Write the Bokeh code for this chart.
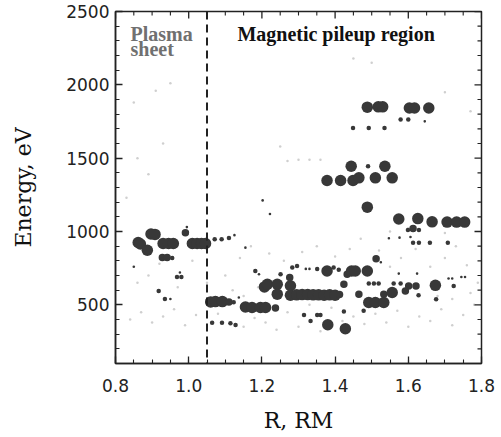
import math
from bokeh.plotting import figure
from bokeh.models import (Range1d, SingleIntervalTicker, Span, Label,
                          ColumnDataSource, NumeralTickFormatter)
from bokeh.embed import file_html
from bokeh.resources import INLINE

# ---- data: ion energy peaks vs distance (R in Mercury radii), level = peak intensity class
r_vals = [
    0.862, 0.868, 0.887, 0.897, 0.908, 0.930, 0.945, 0.958, 0.928, 0.941, 0.955, 0.991, 0.995,
    1.010, 1.023, 1.035, 1.046, 0.850, 0.968, 0.980, 0.976, 0.918, 0.935, 0.950,
    1.071, 1.090, 1.110, 1.125,
    1.060, 1.073, 1.092, 1.110, 1.123, 1.137,
    1.064, 1.091, 1.114, 1.128,
    1.155, 1.173, 1.196, 1.210, 1.237, 1.155,
    1.182, 1.192,
    1.207, 1.215, 1.242, 1.242, 1.278, 1.278, 1.251, 1.276, 1.283, 1.296, 1.320, 1.330,
    1.351, 1.396, 1.410, 1.433, 1.424, 1.378, 1.445, 1.455, 1.488, 1.465,
    1.295, 1.310, 1.325, 1.340, 1.355, 1.370, 1.385, 1.400, 1.412,
    1.315, 1.351, 1.360, 1.333, 1.424, 1.380, 1.428,
    1.478, 1.492, 1.510, 1.533, 1.533, 1.556, 1.592, 1.601, 1.621, 1.628, 1.674, 1.676, 1.724,
    1.492, 1.506, 1.519, 1.560, 1.579, 1.512, 1.525, 1.574, 1.624, 1.710, 1.720, 1.745, 1.755,
    1.488, 1.574, 1.626, 1.665, 1.706, 1.732, 1.754, 1.599, 1.613, 1.629, 1.547, 1.576, 1.606,
    1.613, 1.629, 1.659, 1.708,
    1.378, 1.415, 1.449, 1.465, 1.510, 1.556, 1.444, 1.490, 1.536,
    1.488, 1.518, 1.530, 1.603, 1.617, 1.656,
    1.579, 1.600, 1.645, 1.449, 1.492, 1.535,
    1.202, 1.222,
]
e_vals = [
    925, 915, 872, 983, 980, 918, 918, 918, 822, 822, 820, 992, 1030,
    918, 918, 918, 918, 760, 690, 690, 720, 595, 540, 540,
    947, 947, 955, 975,
    520, 522, 522, 520, 518, 550,
    377, 377, 375, 362,
    485, 482, 482, 482, 478, 890,
    731, 708,
    622, 640, 640, 573, 630, 565, 708, 686, 754, 765, 745, 745,
    745, 754, 740, 708, 641, 731, 731, 731, 731, 573,
    568, 570, 570, 568, 568, 565, 568, 565, 570,
    430, 430, 430, 390, 454, 364, 337,
    459, 516, 516, 516, 573, 584, 595, 629, 629, 566, 633, 538, 629,
    645, 645, 645, 645, 645, 815, 790, 713, 713, 680, 680, 690, 690,
    1166, 1085, 1088, 1066, 1064, 1064, 1064, 1010, 1020, 1010, 954, 958, 962,
    924, 924, 924, 924,
    1348, 1348, 1348, 1366, 1366, 1366, 1445, 1445, 1445,
    1848, 1850, 1850, 1842, 1842, 1842,
    1763, 1763, 1751, 1706, 1706, 1706,
    1212, 1119,
]
level = [
    3, 3, 3, 3, 3, 3, 3, 3, 2, 2, 1, 2, 0,
    3, 3, 3, 3, 0, 1, 1, 0, 1, 1, 0,
    1, 1, 1, 0,
    3, 3, 3, 2, 1, 0,
    1, 1, 1, 1,
    3, 3, 3, 3, 2, 0,
    1, 0,
    3, 3, 3, 3, 3, 3, 1, 2, 1, 1, 0, 0,
    1, 1, 1, 2, 2, 3, 3, 3, 3, 2,
    3, 3, 3, 3, 3, 3, 3, 3, 2,
    1, 1, 1, 1, 1, 3, 3,
    1, 3, 3, 3, 2, 3, 2, 2, 2, 1, 3, 1, 1,
    1, 1, 1, 1, 1, 2, 0, 0, 0, 0, 0, 0, 0,
    3, 3, 3, 3, 3, 3, 3, 1, 2, 1, 0, 0, 0,
    1, 1, 1, 1,
    3, 3, 3, 3, 3, 3, 3, 1, 3,
    3, 3, 3, 3, 3, 3,
    1, 1, 0, 1, 1, 1,
    0, 0,
]

# faint background counts
faint_r = [0.83, 0.86, 0.93, 0.89, 0.85, 0.95, 0.91, 1.27, 1.30, 1.33, 1.36, 1.25, 1.45, 1.50,
           1.70, 1.77, 0.84, 0.87, 0.90, 0.93, 0.96, 0.99, 1.02, 1.08, 1.12, 1.15, 1.18, 1.21,
           1.24, 1.27, 1.30, 1.33, 1.36, 1.39, 1.42, 1.45, 1.48, 1.51, 1.54, 1.57, 1.60, 1.63,
           1.66, 1.69, 1.72, 1.75, 1.78, 0.86, 0.89, 0.92, 0.97, 1.01, 1.05, 1.10, 1.14, 1.17,
           1.22, 1.26, 1.31, 1.35, 1.40, 1.44, 1.47, 1.52, 1.55, 1.58, 1.62, 1.66, 1.70, 1.73,
           1.76, 1.79, 1.68, 1.72, 1.77, 1.15, 1.19, 1.60, 1.70, 1.55]
faint_e = [1230, 1500, 1600, 1390, 1880, 2010, 1960, 1480, 1490, 1490, 1490, 1580, 2180, 2150,
           1950, 1820, 400, 450, 380, 420, 470, 360, 430, 440, 600, 350, 410, 380,
           330, 450, 350, 500, 320, 480, 390, 420, 370, 440, 380, 460, 350, 420,
           390, 470, 360, 430, 500, 650, 700, 780, 620, 800, 650, 700, 820, 900,
           850, 800, 860, 900, 830, 880, 950, 870, 760, 820, 880, 760, 820, 900,
           770, 650, 560, 540, 580, 560, 620, 1020, 990, 1000]

# axis tick values
x_major_ticks = [0.8, 1.0, 1.2, 1.4, 1.6, 1.8]
x_minor_ticks = [0.85, 0.9, 0.95, 1.05, 1.1, 1.15, 1.25, 1.3, 1.35, 1.45, 1.5, 1.55,
                 1.65, 1.7, 1.75]
y_major_ticks = [500, 1000, 1500, 2000, 2500]
y_minor_ticks = [100, 200, 300, 400, 600, 700, 800, 900, 1100, 1200, 1300, 1400, 1600,
                 1700, 1800, 1900, 2100, 2200, 2300, 2400]
boundary_r = 1.05
x_lo, x_hi = 0.8, 1.8
y_lo, y_hi = 100, 2500

size_map = {3: 11.5, 2: 7.5, 1: 4.5, 0: 2.6}
src = ColumnDataSource(dict(r=r_vals, e=e_vals, s=[size_map[v] for v in level]))
fsrc = ColumnDataSource(dict(r=faint_r, e=faint_e))

INK = "#222222"

p = figure(width=501, height=437, output_backend="svg", toolbar_location=None,
           x_range=Range1d(x_lo, x_hi), y_range=Range1d(y_lo, y_hi),
           min_border_left=115, min_border_right=20, min_border_top=11, min_border_bottom=74)
p.background_fill_color = "white"
p.border_fill_color = "white"
p.grid.visible = False
p.outline_line_color = INK
p.outline_line_width = 1.5

p.scatter("r", "e", source=fsrc, size=2.5, color="#cfcfcf", line_color=None)
p.scatter("r", "e", source=src, size="s", color="#383838", line_color=None)

p.add_layout(Span(location=boundary_r, dimension="height", line_dash="8 5",
                  line_width=2, line_color=INK))

# inward ticks on top and right edges (glyphs are clipped to the frame)
p.scatter(x_major_ticks, [y_hi] * len(x_major_ticks), marker="dash", angle=math.pi / 2,
          size=14, line_color=INK, line_width=1.3)
p.scatter(x_minor_ticks, [y_hi] * len(x_minor_ticks), marker="dash", angle=math.pi / 2,
          size=8, line_color=INK, line_width=1.1)
p.scatter([x_hi] * len(y_major_ticks), y_major_ticks, marker="dash",
          size=14, line_color=INK, line_width=1.3)
p.scatter([x_hi] * len(y_minor_ticks), y_minor_ticks, marker="dash",
          size=8, line_color=INK, line_width=1.1)

p.xaxis.ticker = SingleIntervalTicker(interval=0.2, num_minor_ticks=4)
p.yaxis.ticker = SingleIntervalTicker(interval=500, num_minor_ticks=5)
p.xaxis.formatter = NumeralTickFormatter(format="0.0")
p.yaxis.formatter = NumeralTickFormatter(format="0")
p.xaxis.axis_label = "R, RM"
p.yaxis.axis_label = "Energy, eV"
for ax in (p.xaxis[0], p.yaxis[0]):
    ax.major_tick_in = 7
    ax.major_tick_out = 0
    ax.minor_tick_in = 4
    ax.minor_tick_out = 0
    ax.axis_line_color = INK
    ax.axis_line_width = 1.5
    ax.major_tick_line_color = INK
    ax.minor_tick_line_color = INK
    ax.major_tick_line_width = 1.3
    ax.minor_tick_line_width = 1.1
    ax.major_label_text_font = "DejaVu Sans"
    ax.major_label_text_font_size = "17px"
    ax.major_label_text_color = INK
    ax.axis_label_text_font = "DejaVu Serif"
    ax.axis_label_text_font_size = "22px"
    ax.axis_label_text_font_style = "normal"
    ax.axis_label_text_color = "#111111"
p.xaxis.major_label_standoff = 15
p.xaxis.axis_label_standoff = 13
p.yaxis.major_label_standoff = 6
p.yaxis.axis_label_standoff = 27

p.add_layout(Label(x=0.841, y=2350, text="Plasma", text_font="Liberation Serif",
                   text_font_style="bold", text_font_size="20px", text_color="#707070",
                   text_baseline="alphabetic"))
p.add_layout(Label(x=0.841, y=2242, text="sheet", text_font="Liberation Serif",
                   text_font_style="bold", text_font_size="20px", text_color="#707070",
                   text_baseline="alphabetic"))
p.add_layout(Label(x=1.133, y=2350, text="Magnetic pileup region", text_font="Liberation Serif",
                   text_font_style="bold", text_font_size="20px", text_color="#111111",
                   text_baseline="alphabetic"))

open("out.html", "w").write(file_html(p, INLINE))
